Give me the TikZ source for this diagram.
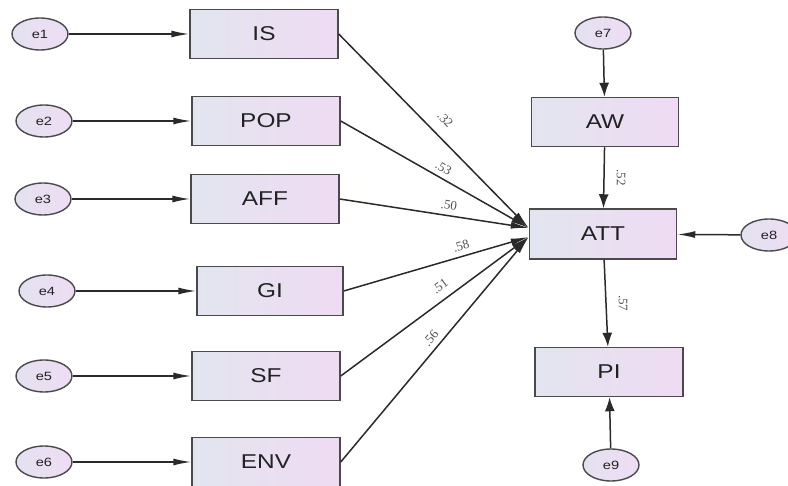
\documentclass[tikz,border=0pt]{standalone}
\usepackage{graphicx}
\usepackage{fontspec}
\setmainfont{Liberation Serif}
\newfontfamily\labelfont{Liberation Sans}
\usetikzlibrary{arrows.meta,shapes.geometric}

\newcommand\widetext[1]{\scalebox{1.22}[1]{#1}}

\definecolor{boxleft}{HTML}{E2E5EF}
\definecolor{boxright}{HTML}{EFDBF3}
\definecolor{ellleft}{HTML}{E4E2F0}
\definecolor{ellright}{HTML}{EEDDF4}
\definecolor{edgegray}{HTML}{4A4A4A}
\definecolor{linegray}{HTML}{2A2A2A}
\definecolor{textgray}{HTML}{222222}
\definecolor{coefgray}{HTML}{505050}

\tikzset{
  obsbox/.style={rectangle, draw=edgegray, line width=1.5pt,
    left color=boxleft, right color=boxright,
    minimum width=148pt, minimum height=49pt, inner sep=0pt,
    font=\labelfont\fontsize{20}{24}\selectfont, text=textgray},
  errnode/.style={ellipse, draw=edgegray, line width=1.4pt,
    left color=ellleft, right color=ellright,
    minimum width=56pt, minimum height=32pt, inner sep=0pt,
    font=\labelfont\fontsize{12}{14}\selectfont, text=textgray},
  hlink/.style={draw=linegray, line width=1.5pt, -{Latex[length=18pt,width=7pt]}},
  vlink/.style={draw=linegray, line width=1.5pt, -{Latex[length=14pt,width=10pt]}},
  coef/.style={font=\fontsize{13}{15}\selectfont, text=coefgray, sloped, above=4pt, inner sep=1pt},
  vcoef/.style={font=\fontsize{13}{15}\selectfont, text=coefgray, inner sep=1pt, xshift=17pt, rotate=-90}
}

\begin{document}
\begin{tikzpicture}[x=1pt,y=1pt]
  \useasboundingbox (0,0) rectangle (788,-486);

  % exogenous observed variables
  \node[obsbox] (IS)  at (264,-34)  {\widetext{IS}};
  \node[obsbox] (POP) at (266,-121) {\widetext{POP}};
  \node[obsbox] (AFF) at (265,-199) {\widetext{AFF}};
  \node[obsbox, minimum width=146pt] (GI) at (270,-291) {\widetext{GI}};
  \node[obsbox] (SF)  at (266,-376) {\widetext{SF}};
  \node[obsbox] (ENV) at (266,-462) {\widetext{ENV}};

  % mediator chain
  \node[obsbox, minimum width=147pt] (AW)  at (605,-122) {\widetext{AW}};
  \node[obsbox, minimum width=147pt, minimum height=50pt] (ATT) at (603,-234) {\widetext{ATT}};
  \node[obsbox] (PI)  at (609,-372) {\widetext{PI}};

  % error terms
  \node[errnode] (e1) at (40,-34)  {\widetext{e1}};
  \node[errnode] (e2) at (44,-121) {\widetext{e2}};
  \node[errnode] (e3) at (43,-199) {\widetext{e3}};
  \node[errnode] (e4) at (47,-291) {\widetext{e4}};
  \node[errnode] (e5) at (44,-376) {\widetext{e5}};
  \node[errnode] (e6) at (44,-462) {\widetext{e6}};
  \node[errnode] (e7) at (603,-33) {\widetext{e7}};
  \node[errnode] (e8) at (769,-235) {\widetext{e8}};
  \node[errnode] (e9) at (611,-465) {\widetext{e9}};

  % entry points on the left side of ATT
  \coordinate (attup) at ([yshift=6pt]ATT.west);
  \coordinate (attlow) at ([yshift=-3pt]ATT.west);

  % error arrows
  \foreach \e/\v in {e1/IS, e2/POP, e3/AFF, e4/GI, e5/SF, e6/ENV}
    \draw[hlink] (\e) -- (\v);
  \draw[hlink] (e8) -- (ATT);
  \draw[vlink] (e7) -- (AW);
  \draw[vlink] (e9) -- (PI);

  % paths into ATT
  \draw[hlink] (IS.east)  -- node[coef, pos=0.50, above=6pt] {.32} (attup);
  \draw[hlink] (POP.east) -- node[coef, pos=0.52] {.53} (attup);
  \draw[hlink] (AFF.east) -- node[coef, pos=0.57] {.50} (attup);
  \draw[hlink] (GI.east)  -- node[coef, pos=0.65] {.58} (attlow);
  \draw[hlink] (SF.east)  -- node[coef, pos=0.57, above=3pt] {.51} (attlow);
  \draw[hlink] (ENV.east) -- node[coef, pos=0.52] {.56} (attlow);

  % mediation paths
  \draw[vlink] (AW) -- node[vcoef] {.52} (ATT);
  \draw[vlink] (ATT) -- node[vcoef] {.57} (PI);
\end{tikzpicture}
\end{document}
